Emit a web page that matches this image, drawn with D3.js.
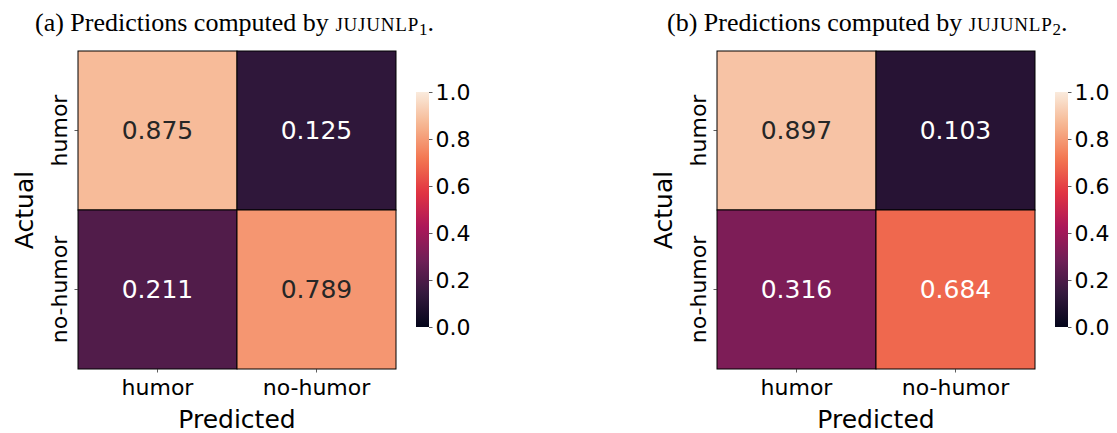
<!DOCTYPE html>
<html>
<head>
<meta charset="utf-8">
<script src="https://cdn.jsdelivr.net/npm/d3@7"></script>
<style>
  html, body { margin: 0; padding: 0; background: #fff; }
  svg { display: block; }
</style>
</head>
<body>
<svg id="chart" width="1117" height="433"></svg>
<script>
// ---- data ----
const categories = ["humor", "no-humor"];
const panelTitles = ["(a) Predictions computed by ", "(b) Predictions computed by "];
const modelNames = ["JUJUNLP", "JUJUNLP"];
const modelSubs = ["1", "2"];
const matrixA = [[0.875, 0.125], [0.211, 0.789]];
const matrixB = [[0.897, 0.103], [0.316, 0.684]];
const colorbarTicks = [0.0, 0.2, 0.4, 0.6, 0.8, 1.0];
const xLabel = "Predicted";
const yLabel = "Actual";

// rocket colormap anchors
const rocketStops = ["#03051a", "#35193e", "#701f57", "#ad1759", "#e13342", "#f37651", "#f6b48f", "#faebdd"];
const rocket = d3.scaleLinear()
  .domain(rocketStops.map((d, i) => i / (rocketStops.length - 1)))
  .range(rocketStops)
  .interpolate(d3.interpolateRgb);

const svg = d3.select("#chart");
const sans = "DejaVu Sans";
const serif = "Liberation Serif";

const panels = [
  { m: matrixA, x0: 78, title: panelTitles[0], name: modelNames[0], sub: modelSubs[0], tx: 35 },
  { m: matrixB, x0: 717, title: panelTitles[1], name: modelNames[1], sub: modelSubs[1], tx: 667 }
];

const defs = svg.append("defs");
const grad = defs.append("linearGradient").attr("id", "cbgrad")
  .attr("x1", 0).attr("y1", 1).attr("x2", 0).attr("y2", 0);
d3.range(0, 1.0001, 0.02).forEach(t => {
  grad.append("stop").attr("offset", t).attr("stop-color", rocket(t));
});

function lum(c) {
  const rgb = d3.rgb(c);
  const f = v => { v /= 255; return v <= 0.03928 ? v / 12.92 : Math.pow((v + 0.055) / 1.055, 2.4); };
  return 0.2126 * f(rgb.r) + 0.7152 * f(rgb.g) + 0.0722 * f(rgb.b);
}

panels.forEach(p => {
  const size = 318, y0 = 51;
  const g = svg.append("g");
  const x = d3.scaleBand().domain(categories).range([p.x0, p.x0 + size]);
  const y = d3.scaleBand().domain(categories).range([y0, y0 + size]);

  const cells = [];
  categories.forEach((a, i) => categories.forEach((pr, j) => cells.push({ a, pr, v: p.m[i][j] })));

  g.selectAll("rect.cell").data(cells).join("rect")
    .attr("x", d => x(d.pr)).attr("y", d => y(d.a))
    .attr("width", x.bandwidth()).attr("height", y.bandwidth())
    .attr("fill", d => rocket(d.v))
    .attr("stroke", "#000").attr("stroke-width", 1);

  g.selectAll("text.ann").data(cells).join("text")
    .attr("x", d => x(d.pr) + x.bandwidth() / 2)
    .attr("y", d => y(d.a) + y.bandwidth() / 2)
    .attr("text-anchor", "middle").attr("dominant-baseline", "central")
    .attr("font-family", sans).attr("font-size", 25)
    .attr("fill", d => lum(rocket(d.v)) > 0.408 ? "#262626" : "#ffffff")
    .text(d => d.v.toFixed(3));

  // x axis
  const xa = g.append("g").attr("transform", `translate(0,${y0 + size})`)
    .call(d3.axisBottom(x).tickSize(3.5).tickPadding(4));
  xa.select(".domain").remove();
  xa.selectAll("line").attr("stroke", "#333").attr("stroke-width", 0.8);
  xa.selectAll("text").attr("font-family", sans).attr("font-size", 22).attr("fill", "#000")
    .attr("dy", null).attr("y", 26);

  // y axis
  const ya = g.append("g").attr("transform", `translate(${p.x0},0)`)
    .call(d3.axisLeft(y).tickSize(3.5));
  ya.select(".domain").remove();
  ya.selectAll("line").attr("stroke", "#333").attr("stroke-width", 0.8);
  ya.selectAll("text").attr("font-family", sans).attr("font-size", 22).attr("fill", "#000")
    .attr("x", null).attr("dy", null)
    .attr("text-anchor", "middle")
    .attr("transform", "translate(-11,0) rotate(-90)");

  g.append("text").attr("x", p.x0 + size / 2).attr("y", 428)
    .attr("text-anchor", "middle").attr("font-family", sans).attr("font-size", 25)
    .text(xLabel);
  g.append("text").attr("transform", `translate(${p.x0 - 45},${y0 + size / 2}) rotate(-90)`)
    .attr("text-anchor", "middle").attr("font-family", sans).attr("font-size", 25)
    .text(yLabel);

  // colorbar
  const cbx = p.x0 + size + 20, cbTop = 92, cbBot = 327, cbw = 13;
  const cs = d3.scaleLinear().domain([0, 1]).range([cbBot, cbTop]);
  g.append("rect").attr("x", cbx).attr("y", cbTop).attr("width", cbw).attr("height", cbBot - cbTop)
    .attr("fill", "url(#cbgrad)");
  const ca = g.append("g").attr("transform", `translate(${cbx + cbw},0)`)
    .call(d3.axisRight(cs).tickValues(colorbarTicks).tickFormat(d3.format(".1f")).tickSize(3.5).tickPadding(3));
  ca.select(".domain").remove();
  ca.selectAll("line").attr("stroke", "#333").attr("stroke-width", 0.8);
  ca.selectAll("text").attr("font-family", sans).attr("font-size", 22).attr("fill", "#000");

  // title
  const t = svg.append("text").attr("x", p.tx).attr("y", 31)
    .attr("font-family", serif).attr("font-size", 26).attr("fill", "#000");
  t.append("tspan").text(p.title);
  t.append("tspan").attr("font-size", 19).attr("letter-spacing", 0.8).text(p.name);
  t.append("tspan").attr("font-size", 17).attr("dy", 4).text(p.sub);
  t.append("tspan").attr("dy", -4).text(".");
});
</script>
</body>
</html>
